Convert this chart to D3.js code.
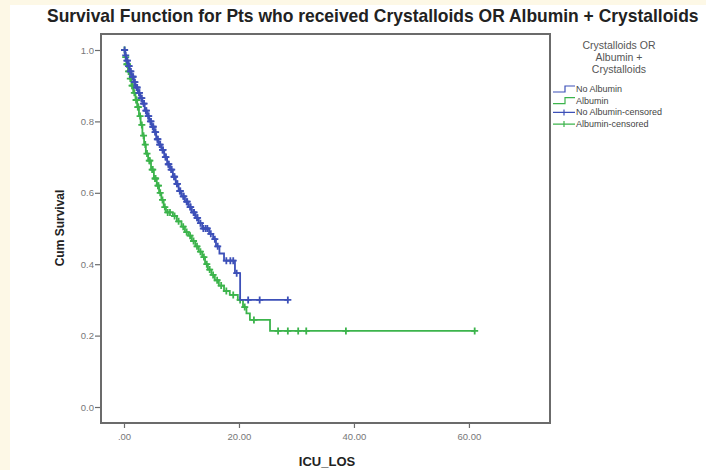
<!DOCTYPE html>
<html>
<head>
<meta charset="utf-8">
<script src="https://cdnjs.cloudflare.com/ajax/libs/d3/7.8.5/d3.min.js"></script>
<style>
    body { margin: 0; background: #fdf8e6; }
    svg text { font-family: "Liberation Sans", Arial, sans-serif; }
</style>
</head>
<body>
<div id="chart"></div>
<script>
// series names
var seriesNames = ["No Albumin", "Albumin", "No Albumin-censored", "Albumin-censored"];
var legendTitle = ["Crystalloids OR", "Albumin +", "Crystalloids"];

// x ticks and y ticks
var xTicks = [0, 20, 40, 60];
var xTickLabels = [".00", "20.00", "40.00", "60.00"];
var yTicks = [0, 0.2, 0.4, 0.6, 0.8, 1.0];

// No Albumin: event times and survival after each step
var noAlbTimes = [0.2, 0.4, 0.7, 1.0, 1.3, 1.7, 2.0, 2.4, 2.8, 3.2, 3.6, 4.0, 4.4, 4.8, 5.2, 5.6, 6.0, 6.5, 7.0, 7.5,
    8.0, 8.5, 9.0, 9.5, 10.0, 10.6, 11.2, 11.8, 12.4, 13.0, 13.6, 14.8, 15.5, 16.0, 16.6, 17.4, 19.3, 20.2];
var noAlbSurv = [0.985, 0.97, 0.955, 0.94, 0.925, 0.91, 0.895, 0.88, 0.865, 0.85, 0.83, 0.815, 0.80, 0.785, 0.77, 0.75, 0.735, 0.72, 0.70, 0.68,
    0.665, 0.645, 0.625, 0.605, 0.59, 0.575, 0.56, 0.545, 0.53, 0.515, 0.50, 0.485, 0.47, 0.45, 0.43, 0.41, 0.375, 0.30];
var noAlbCensored = [0.1, 0.3, 0.5, 0.6, 0.8, 0.9, 1.1, 1.2, 1.5, 1.6, 1.8, 1.9, 2.2, 2.3, 2.6, 2.7, 3.0, 3.1, 3.4, 3.5,
    3.8, 3.9, 4.2, 4.3, 4.6, 4.7, 5.0, 5.1, 5.4, 5.5, 5.8, 5.9, 6.2, 6.3, 6.7, 6.8, 7.2, 7.3, 7.7, 7.8,
    8.2, 8.3, 8.7, 8.8, 9.2, 9.3, 9.7, 9.8, 10.3, 10.4, 10.9, 11.0, 11.5, 11.6, 12.1, 12.2, 12.7, 12.8, 13.3, 13.8,
    14.2, 14.5, 15.1, 15.8, 16.3, 17.8, 18.5, 19.0, 19.6, 21.6, 23.6, 28.5];

// Albumin
var albTimes = [0.2, 0.4, 0.7, 1.0, 1.3, 1.6, 2.0, 2.3, 2.6, 2.9, 3.2, 3.5, 3.8, 4.2, 4.7, 5.2, 5.7, 6.1, 6.5, 6.9,
    7.3, 8.5, 9.2, 10.0, 10.6, 11.2, 11.8, 12.4, 13.0, 13.6, 14.1, 14.6, 15.2, 15.8, 16.5, 17.4, 18.4, 19.8, 20.7, 21.3,
    21.9, 25.4];
var albSurv = [0.98, 0.96, 0.94, 0.92, 0.90, 0.88, 0.86, 0.84, 0.815, 0.79, 0.76, 0.735, 0.71, 0.69, 0.665, 0.64, 0.62, 0.60, 0.58, 0.56,
    0.545, 0.535, 0.52, 0.505, 0.49, 0.48, 0.465, 0.45, 0.435, 0.42, 0.40, 0.385, 0.37, 0.355, 0.34, 0.325, 0.314, 0.30, 0.28, 0.262,
    0.244, 0.213];
var albCensored = [0.1, 0.3, 0.5, 0.6, 0.8, 0.9, 1.1, 1.4, 1.5, 1.8, 2.1, 2.2, 2.4, 2.5, 2.8, 3.1, 3.4, 3.7, 4.0, 4.4,
    4.5, 4.9, 5.0, 5.4, 5.5, 5.9, 6.0, 6.3, 6.7, 7.1, 7.6, 8.0, 8.8, 9.5, 10.3, 10.9, 11.5, 12.1, 12.7, 13.3,
    13.9, 14.4, 14.9, 15.5, 16.2, 16.9, 17.8, 19.0, 20.2, 21.0, 22.6, 26.8, 28.5, 30.3, 31.7, 38.6, 61.0];

var colors = {noAlb: "#3d50b8", alb: "#3cb44c"};

var margin = {left: 101, top: 34, right: 550, bottom: 423};

var svg = d3.select("#chart").append("svg")
    .attr("width", 706)
    .attr("height", 470);

// white page with cream strip left and top
svg.append("rect")
    .attr("x", 10).attr("y", 5)
    .attr("width", 696).attr("height", 465)
    .attr("fill", "#ffffff");

var x = d3.scaleLinear()
    .domain([-4.0, 74.1])
    .range([margin.left, margin.right]);

var y = d3.scaleLinear()
    .domain([-0.0448, 1.0448])
    .range([margin.bottom, margin.top]);

// step function value at time t
function survAt(times, surv, t){
    var s = 1.0;
    for (var i = 0; i < times.length; i++){
        if (times[i] <= t){ s = surv[i]; }
    }
    return s;
}

function stepPoints(times, surv, censored){
    var pts = [[0, 1.0]];
    var s = 1.0;
    times.forEach(function(t, i){
        pts.push([t, s]);
        s = surv[i];
        pts.push([t, s]);
    });
    var lastT = d3.max(censored);
    pts.push([lastT, s]);
    return pts;
}

var line = d3.line()
    .x(function(d){ return x(d[0]); })
    .y(function(d){ return y(d[1]); });

// frame
svg.append("rect")
    .attr("x", margin.left)
    .attr("y", margin.top)
    .attr("width", margin.right - margin.left)
    .attr("height", margin.bottom - margin.top)
    .attr("fill", "#ffffff")
    .attr("stroke", "#6b6b6b")
    .attr("stroke-width", 2);

// y axis
var yAxis = d3.axisLeft(y)
    .tickValues(yTicks)
    .tickSize(6)
    .tickFormat(d3.format(".1f"));

var gy = svg.append("g")
    .attr("transform", "translate(" + margin.left + ",0)")
    .call(yAxis);
gy.select(".domain").remove();
gy.selectAll("line").attr("stroke", "#6b6b6b").attr("stroke-width", 1.2);
gy.selectAll("text")
    .attr("fill", "#777")
    .style("font-size", "9.5px")
    .attr("x", -7);

// x axis
var xAxis = d3.axisBottom(x)
    .tickValues(xTicks)
    .tickSize(5)
    .tickFormat(function(d, i){ return xTickLabels[i]; });

var gx = svg.append("g")
    .attr("transform", "translate(0," + margin.bottom + ")")
    .call(xAxis);
gx.select(".domain").remove();
gx.selectAll("line").attr("stroke", "#6b6b6b").attr("stroke-width", 1.2);
gx.selectAll("text")
    .attr("fill", "#777")
    .style("font-size", "9.5px")
    .attr("y", 10);

// curves
var series = [
    {key: "noAlb", times: noAlbTimes, surv: noAlbSurv, cens: noAlbCensored},
    {key: "alb", times: albTimes, surv: albSurv, cens: albCensored}
];

series.slice().reverse().forEach(function(sr){
    svg.append("path")
        .datum(stepPoints(sr.times, sr.surv, sr.cens))
        .attr("fill", "none")
        .attr("stroke", colors[sr.key])
        .attr("stroke-width", 1.8)
        .attr("d", line);

    svg.append("g").selectAll("path")
        .data(sr.cens)
        .enter().append("path")
        .attr("fill", "none")
        .attr("stroke", colors[sr.key])
        .attr("stroke-width", 1.8)
        .attr("d", function(t){
            var px = x(t), py = y(survAt(sr.times, sr.surv, t));
            return "M" + (px - 3.5) + "," + py + "H" + (px + 3.5) + "M" + px + "," + (py - 3.5) + "V" + (py + 3.5);
        });
});

// title
var title = svg.append("text")
    .attr("x", 47)
    .attr("y", 22)
    .attr("fill", "#222")
    .style("font-weight", "bold")
    .style("font-size", "13px")
    .text("Survival Function for Pts who received Crystalloids OR Albumin + Crystalloids");
var tw = title.node().getComputedTextLength();
title.style("font-size", (13 * 652 / tw) + "px");

// axis titles
svg.append("text")
    .attr("transform", "translate(64,228) rotate(-90)")
    .attr("text-anchor", "middle")
    .attr("fill", "#222")
    .style("font-weight", "bold")
    .style("font-size", "12px")
    .text("Cum Survival");

svg.append("text")
    .attr("x", 327)
    .attr("y", 466)
    .attr("text-anchor", "middle")
    .attr("fill", "#222")
    .style("font-weight", "bold")
    .style("font-size", "13px")
    .text("ICU_LOS");

// legend
var legend = svg.append("g");
legend.selectAll(".ltitle")
    .data(legendTitle)
    .enter().append("text")
    .attr("class", "ltitle")
    .attr("x", 619)
    .attr("y", function(d, i){ return 49 + i * 12; })
    .attr("text-anchor", "middle")
    .attr("fill", "#555")
    .style("font-size", "10.5px")
    .text(function(d){ return d; });

var legendColors = [colors.noAlb, colors.alb, colors.noAlb, colors.alb];
var rows = legend.selectAll(".lrow")
    .data(seriesNames)
    .enter().append("g")
    .attr("class", "lrow")
    .attr("transform", function(d, i){ return "translate(0," + (89 + i * 11.7) + ")"; });

rows.append("path")
    .attr("fill", "none")
    .attr("stroke", function(d, i){ return legendColors[i]; })
    .attr("stroke-width", 1.2)
    .attr("d", function(d, i){
        if (i < 2){
            return "M553,3H565V-3H575";
        }
        return "M553,0H575M564,-3V3";
    });

rows.append("text")
    .attr("x", 576)
    .attr("y", 3)
    .attr("fill", "#444")
    .style("font-size", "9px")
    .text(function(d){ return d; });
</script>
</body>
</html>
